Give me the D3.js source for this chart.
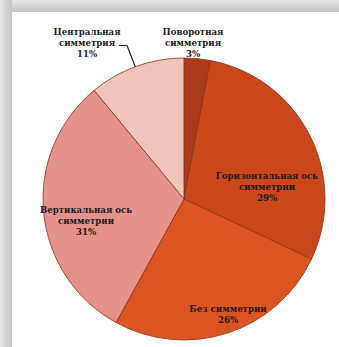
<!DOCTYPE html>
<html><head><meta charset="utf-8">
<script src="https://cdn.jsdelivr.net/npm/d3@7"></script>
<style>html,body{margin:0;padding:0;background:#fff;}svg{display:block;}</style>
</head><body>
<svg id="c" width="339" height="347"></svg>
<script>
const categories = ["Поворотная симметрия", "Горизонтальная ось симметрии", "Без симметрии", "Вертикальная ось симметрии", "Центральная симметрия"];
const values = [3, 29, 26, 31, 11];
const labelLines = [["Поворотная", "симметрия"], ["Горизонтальная ось", "симметрии"], ["Без симметрии"], ["Вертикальная ось", "симметрии"], ["Центральная", "симметрия"]];
const colors = ["#a93b1b", "#c9471a", "#dc5521", "#e4928a", "#efc4bd"];

const svg = d3.select("#c");
const W = 339, H = 347;
const defs = svg.append("defs");
const gt = defs.append("linearGradient").attr("id","gt").attr("x1",0).attr("y1",0).attr("x2",0).attr("y2",1);
gt.append("stop").attr("offset",0).attr("stop-color","#e6e6e6");
gt.append("stop").attr("offset",1).attr("stop-color","#c4c4c4");
const gl = defs.append("linearGradient").attr("id","gl").attr("x1",0).attr("y1",0).attr("x2",1).attr("y2",0);
gl.append("stop").attr("offset",0).attr("stop-color","#e6e6e6");
gl.append("stop").attr("offset",1).attr("stop-color","#c4c4c4");
svg.append("rect").attr("x",0).attr("y",0).attr("width",W).attr("height",12).attr("fill","url(#gt)");
svg.append("rect").attr("x",0).attr("y",0).attr("width",12).attr("height",H).attr("fill","url(#gl)");
svg.append("rect").attr("x",12).attr("y",12).attr("width",W-12).attr("height",H-12).attr("fill","#fff");

const cx = 184, cy = 199, r = 141;
const pie = d3.pie().sort(null).value(d => d)(values);
const arc = d3.arc().innerRadius(0).outerRadius(r);
const g = svg.append("g").attr("transform", `translate(${cx},${cy})`);
g.selectAll("path").data(pie).join("path")
  .attr("d", arc).attr("fill", (d,i) => colors[i])
  .attr("stroke", "#8a3318").attr("stroke-width", 0.8);

// leader line for Центральная симметрия, drawn in page coordinates
const d4 = pie[4];
const ang = d4.startAngle + (d4.endAngle - d4.startAngle) * 0.49;
const ex = cx + r * Math.sin(ang), ey = cy - r * Math.cos(ang);
svg.append("path")
  .attr("d", `M119,45.5 L127,45.5 L${ex.toFixed(1)},${ey.toFixed(1)}`)
  .attr("fill", "none").attr("stroke", "#2a2a2a").attr("stroke-width", 1.2)
  .attr("stroke-linejoin", "round");

const fontSize = 8.6, lh = 10.8;
const labelAnchors = [[193, 32], [267, 176], [228, 309], [86, 210], [87, 32]];
pie.forEach((d, i) => {
  const lines = labelLines[i].concat([values[i] + "%"]);
  const x = labelAnchors[i][0], y = labelAnchors[i][1];
  const t = svg.append("text").attr("text-anchor","middle")
    .attr("font-family","'DejaVu Serif', serif")
    .attr("font-weight","bold").attr("font-size",fontSize).attr("fill","#1c1c1c");
  lines.forEach((ln, k) => {
    t.append("tspan").attr("x", x).attr("y", y + k*lh).attr("dy","0.35em").text(ln);
  });
});
</script>
</body></html>
